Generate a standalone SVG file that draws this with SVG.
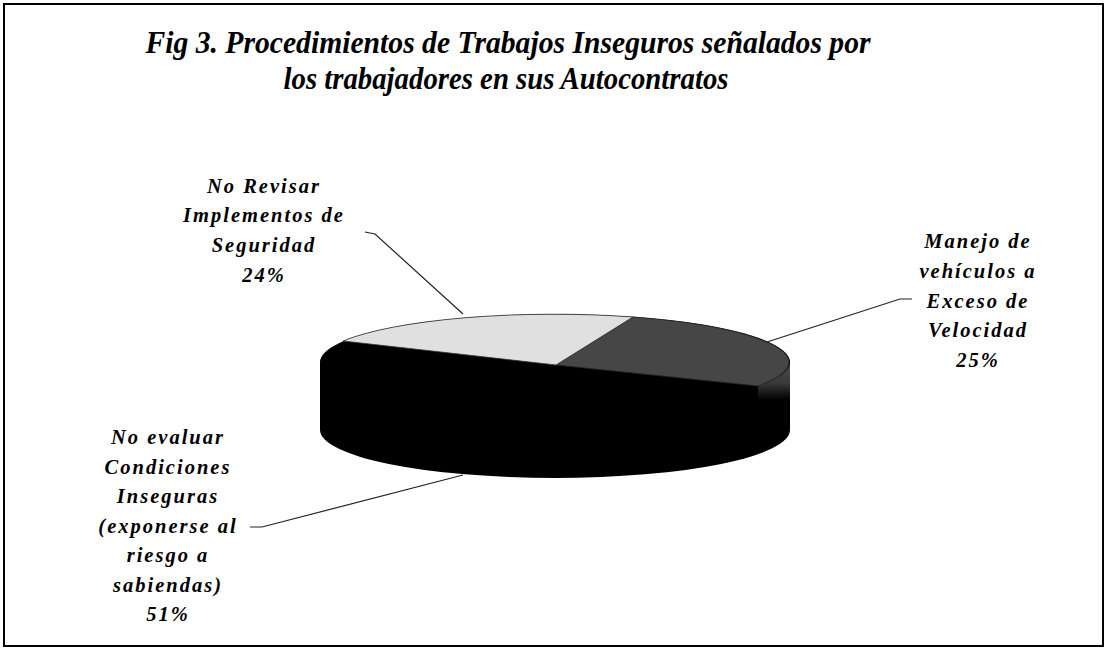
<svg xmlns="http://www.w3.org/2000/svg" width="1106" height="649" viewBox="0 0 1106 649">
<style>
.title{font-family:"Liberation Serif","Times New Roman",serif;font-weight:bold;font-style:italic;font-size:31px;fill:#000}
.lbl{font-family:"Liberation Serif","Times New Roman",serif;font-weight:bold;font-style:italic;font-size:20.5px;letter-spacing:2px;fill:#000;text-anchor:middle}
.conn{fill:none;stroke:#222;stroke-width:1.2}
</style>
<defs>
<linearGradient id="darkSide" gradientUnits="userSpaceOnUse" x1="0" y1="362" x2="0" y2="400">
<stop offset="0" stop-color="#4a4a4a"/>
<stop offset="0.55" stop-color="#3a3a3a"/>
<stop offset="1" stop-color="#000"/>
</linearGradient>
</defs>
<rect x="0" y="0" width="1106" height="649" fill="#fff"/>
<rect x="4" y="4" width="1099" height="642" fill="none" stroke="#000" stroke-width="2"/>
<g id="title">
<text class="title" x="508" y="53" text-anchor="middle" textLength="725" lengthAdjust="spacingAndGlyphs">Fig 3. Procedimientos de Trabajos Inseguros señalados por</text>
<text class="title" x="506" y="89" text-anchor="middle" textLength="445" lengthAdjust="spacingAndGlyphs">los trabajadores en sus Autocontratos</text>
</g>
<g id="pie">
<g id="slice-no-evaluar">
<path d="M320,362 L320,430 A235,48 0 0 0 790,430 L790,362 Z" fill="#000"/>
<ellipse cx="555" cy="362" rx="235" ry="48" fill="#000"/>
</g>
<g id="slice-manejo">
<path d="M790,362 L790,430 A235,48 0 0 1 758,448 L758,386 A235,48 0 0 0 790,362 Z" fill="url(#darkSide)"/>
<path d="M556,365 L633,317 A235,48 0 0 1 758,386 Z" fill="#464646" stroke="#222" stroke-width="0.8"/>
</g>
<g id="slice-no-revisar">
<path d="M556,365 L343,341 A235,48 0 0 1 633,317 Z" fill="#e0e0e0" stroke="#333" stroke-width="0.8"/>
</g>
</g>
<g id="connectors">
<path class="conn" d="M365,232 L375,234 L463,314"/>
<path class="conn" d="M767,342 L900,299 L912,299"/>
<path class="conn" d="M250,527 L262,527 L463,475"/>
</g>
<g id="label-no-revisar">
<text class="lbl" x="264" y="193">No Revisar</text>
<text class="lbl" x="264" y="222">Implementos de</text>
<text class="lbl" x="264" y="252">Seguridad</text>
<text class="lbl" x="264" y="282">24%</text>
</g>
<g id="label-manejo">
<text class="lbl" x="978" y="248">Manejo de</text>
<text class="lbl" x="978" y="278">vehículos a</text>
<text class="lbl" x="978" y="308">Exceso de</text>
<text class="lbl" x="978" y="337">Velocidad</text>
<text class="lbl" x="978" y="367">25%</text>
</g>
<g id="label-no-evaluar">
<text class="lbl" x="168" y="444">No evaluar</text>
<text class="lbl" x="168" y="474">Condiciones</text>
<text class="lbl" x="168" y="503">Inseguras</text>
<text class="lbl" x="168" y="533">(exponerse al</text>
<text class="lbl" x="168" y="562">riesgo a</text>
<text class="lbl" x="168" y="592">sabiendas)</text>
<text class="lbl" x="168" y="621">51%</text>
</g>
</svg>
